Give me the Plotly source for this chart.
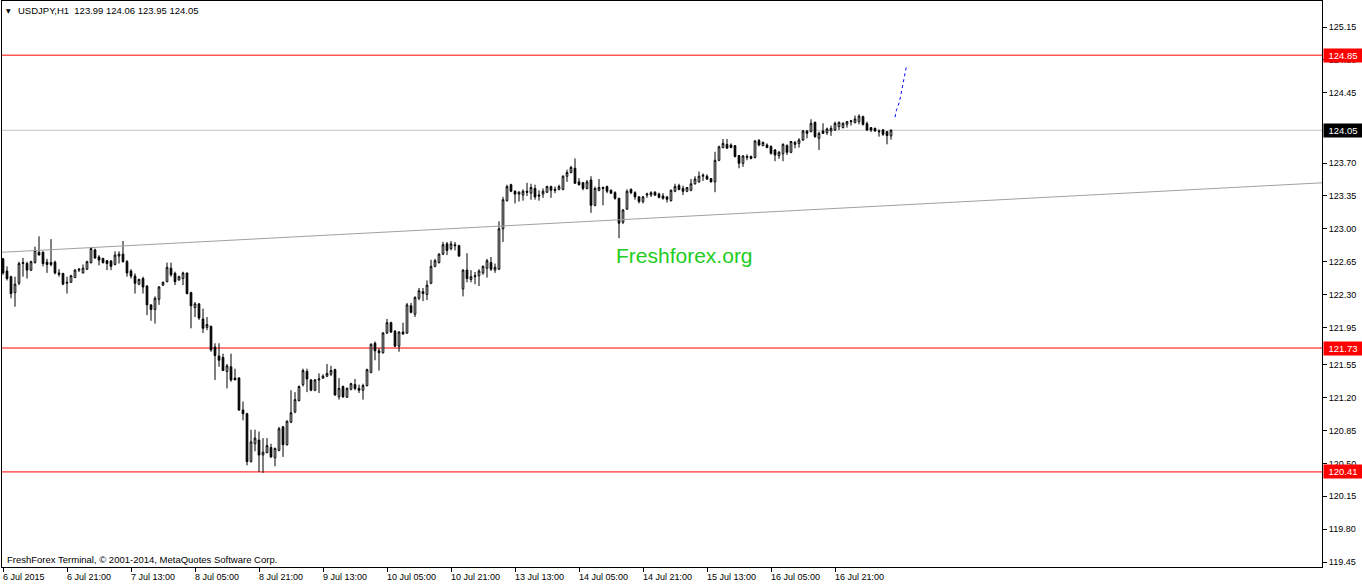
import plotly.graph_objects as go

# ---------------- data (USDJPY H1) ----------------
opens = [122.68, 122.55, 122.49, 122.32, 122.42, 122.63, 122.63, 122.56, 122.64, 122.75,
         122.75, 122.645, 122.64, 122.645, 122.53, 122.525, 122.42, 122.43, 122.48, 122.56,
         122.53, 122.57, 122.64, 122.775, 122.70, 122.685, 122.66, 122.657, 122.62, 122.71,
         122.73, 122.65, 122.55, 122.497, 122.41, 122.47, 122.39, 122.19, 122.14, 122.25,
         122.40, 122.437, 122.58, 122.525, 122.454, 122.47, 122.53, 122.32, 122.16, 122.20,
         122.04, 121.95, 121.96, 121.74, 121.645, 121.63, 121.48, 121.53, 121.41, 121.41,
         121.07, 121.03, 120.52, 120.71, 120.75, 120.59, 120.615, 120.67, 120.56, 120.64,
         120.89, 120.70, 120.94, 121.05, 121.17, 121.34, 121.48, 121.39, 121.28, 121.39,
         121.41, 121.43, 121.45, 121.50, 121.21, 121.32, 121.205, 121.29, 121.34, 121.30,
         121.28, 121.33, 121.47, 121.78, 121.70, 121.68, 121.89, 122.00, 121.91, 121.75,
         121.90, 121.89, 122.18, 122.09, 122.26, 122.33, 122.30, 122.42, 122.60, 122.64,
         122.73, 122.84, 122.79, 122.83, 122.82, 122.36, 122.56, 122.46, 122.49, 122.50,
         122.53, 122.58, 122.64, 122.56, 122.57, 123.00, 123.30, 123.47, 123.40, 123.37,
         123.36, 123.40, 123.38, 123.43, 123.36, 123.37, 123.39, 123.45, 123.42, 123.42,
         123.42, 123.56, 123.60, 123.645, 123.50, 123.49, 123.43, 123.52, 123.25, 123.41,
         123.44, 123.45, 123.41, 123.385, 123.325, 123.07, 123.21, 123.42, 123.385, 123.34,
         123.29, 123.36, 123.36, 123.39, 123.37, 123.35, 123.34, 123.30, 123.40, 123.46,
         123.43, 123.40, 123.41, 123.48, 123.50, 123.56, 123.56, 123.535, 123.50, 123.73,
         123.865, 123.90, 123.893, 123.886, 123.78, 123.698, 123.76, 123.77, 123.76, 123.94,
         123.886, 123.893, 123.876, 123.84, 123.78, 123.80, 123.886, 123.815, 123.90, 123.91,
         123.946, 124.04, 124.035, 124.135, 123.964, 124.042, 124.025, 124.042, 124.053, 124.089,
         124.078, 124.113, 124.14, 124.131, 124.142, 124.195, 124.12, 124.078, 124.07, 124.042,
         124.053, 124.035, 123.99]
highs = [122.69, 122.60, 122.50, 122.49, 122.65, 122.69, 122.65, 122.66, 122.81, 122.92,
         122.76, 122.68, 122.89, 122.66, 122.57, 122.53, 122.49, 122.51, 122.57, 122.58,
         122.62, 122.66, 122.80, 122.79, 122.72, 122.69, 122.667, 122.667, 122.76, 122.76,
         122.87, 122.667, 122.57, 122.525, 122.47, 122.49, 122.40, 122.19, 122.28, 122.39,
         122.437, 122.64, 122.64, 122.543, 122.50, 122.543, 122.53, 122.33, 122.22, 122.21,
         122.15, 122.06, 121.97, 121.78, 121.78, 121.67, 121.56, 121.67, 121.51, 121.42,
         121.16, 121.04, 120.86, 120.86, 120.84, 120.77, 120.77, 120.71, 120.67, 120.89,
         120.90, 120.96, 121.28, 121.26, 121.33, 121.51, 121.51, 121.40, 121.40, 121.46,
         121.45, 121.56, 121.54, 121.51, 121.41, 121.33, 121.31, 121.36, 121.40, 121.34,
         121.35, 121.51, 121.78, 121.80, 121.73, 121.90, 122.04, 122.01, 121.92, 121.91,
         122.00, 122.21, 122.21, 122.28, 122.37, 122.37, 122.45, 122.67, 122.68, 122.74,
         122.86, 122.86, 122.87, 122.86, 122.83, 122.57, 122.74, 122.56, 122.54, 122.57,
         122.61, 122.68, 122.70, 122.63, 123.08, 123.34, 123.47, 123.48, 123.41, 123.40,
         123.42, 123.49, 123.48, 123.47, 123.41, 123.43, 123.46, 123.46, 123.45, 123.47,
         123.57, 123.63, 123.67, 123.75, 123.54, 123.50, 123.52, 123.56, 123.45, 123.53,
         123.45, 123.46, 123.42, 123.40, 123.33, 123.21, 123.42, 123.43, 123.40, 123.35,
         123.35, 123.385, 123.40, 123.40, 123.385, 123.38, 123.35, 123.42, 123.48, 123.48,
         123.46, 123.445, 123.53, 123.56, 123.61, 123.59, 123.58, 123.54, 123.82, 123.886,
         123.957, 123.957, 123.91, 123.893, 123.787, 123.787, 123.793, 123.78, 123.946, 123.957,
         123.93, 123.91, 123.89, 123.85, 123.83, 123.91, 123.90, 123.936, 123.936, 123.965,
         124.053, 124.053, 124.167, 124.142, 124.035, 124.124, 124.078, 124.10, 124.142, 124.142,
         124.135, 124.149, 124.16, 124.206, 124.22, 124.206, 124.142, 124.08, 124.078, 124.06,
         124.064, 124.042, 124.06]
lows = [122.51, 122.45, 122.26, 122.17, 122.40, 122.49, 122.47, 122.55, 122.63, 122.72,
        122.60, 122.53, 122.60, 122.515, 122.49, 122.40, 122.31, 122.425, 122.48, 122.54,
        122.525, 122.56, 122.63, 122.68, 122.61, 122.63, 122.56, 122.56, 122.61, 122.63,
        122.64, 122.49, 122.47, 122.31, 122.40, 122.31, 122.08, 122.02, 121.99, 122.19,
        122.39, 122.43, 122.49, 122.40, 122.45, 122.40, 122.30, 121.94, 122.06, 122.03,
        121.89, 121.92, 121.69, 121.39, 121.53, 121.49, 121.30, 121.37, 121.39, 121.06,
        120.96, 120.48, 120.51, 120.63, 120.41, 120.40, 120.61, 120.56, 120.47, 120.63,
        120.57, 120.69, 120.93, 121.035, 121.16, 121.32, 121.26, 121.27, 121.27, 121.25,
        121.40, 121.42, 121.43, 121.22, 121.18, 121.20, 121.20, 121.28, 121.28, 121.25,
        121.18, 121.32, 121.46, 121.60, 121.49, 121.67, 121.88, 121.89, 121.74, 121.69,
        121.87, 121.88, 122.10, 122.06, 122.24, 122.23, 122.24, 122.41, 122.59, 122.63,
        122.72, 122.72, 122.77, 122.77, 122.70, 122.28, 122.43, 122.43, 122.41, 122.39,
        122.51, 122.48, 122.55, 122.53, 122.56, 122.86, 123.29, 123.39, 123.27, 123.29,
        123.30, 123.35, 123.31, 123.31, 123.30, 123.33, 123.38, 123.33, 123.38, 123.41,
        123.41, 123.50, 123.59, 123.48, 123.46, 123.41, 123.42, 123.17, 123.24, 123.40,
        123.25, 123.38, 123.37, 123.31, 122.90, 123.05, 123.20, 123.37, 123.31, 123.27,
        123.27, 123.33, 123.34, 123.35, 123.325, 123.31, 123.28, 123.29, 123.39, 123.41,
        123.36, 123.39, 123.40, 123.47, 123.49, 123.51, 123.52, 123.495, 123.39, 123.72,
        123.858, 123.85, 123.86, 123.76, 123.645, 123.66, 123.73, 123.74, 123.75, 123.88,
        123.88, 123.86, 123.79, 123.72, 123.745, 123.72, 123.787, 123.805, 123.858, 123.865,
        123.936, 123.964, 124.028, 123.97, 123.84, 124.01, 124.00, 123.99, 124.042, 124.053,
        124.07, 124.078, 124.10, 124.124, 124.113, 124.10, 124.042, 124.03, 124.035, 123.982,
        123.99, 123.90, 123.95]
closes = [122.53, 122.47, 122.31, 122.41, 122.63, 122.64, 122.56, 122.65, 122.77, 122.72,
          122.63, 122.62, 122.62, 122.53, 122.515, 122.41, 122.43, 122.50, 122.56, 122.57,
          122.58, 122.65, 122.79, 122.69, 122.667, 122.64, 122.63, 122.60, 122.72, 122.73,
          122.65, 122.53, 122.497, 122.42, 122.46, 122.38, 122.19, 122.14, 122.26, 122.38,
          122.43, 122.59, 122.51, 122.437, 122.49, 122.53, 122.31, 122.18, 122.20, 122.05,
          121.94, 121.98, 121.71, 121.65, 121.60, 121.49, 121.54, 121.39, 121.39, 121.07,
          121.03, 120.52, 120.73, 120.77, 120.59, 120.62, 120.69, 120.57, 120.66, 120.87,
          120.70, 120.95, 121.04, 121.18, 121.32, 121.49, 121.40, 121.28, 121.39, 121.40,
          121.43, 121.46, 121.49, 121.23, 121.30, 121.21, 121.30, 121.35, 121.30, 121.28,
          121.33, 121.50, 121.77, 121.70, 121.68, 121.89, 122.00, 121.90, 121.75, 121.90,
          121.88, 122.19, 122.11, 122.27, 122.34, 122.31, 122.40, 122.60, 122.66, 122.73,
          122.83, 122.77, 122.84, 122.82, 122.71, 122.56, 122.47, 122.49, 122.50, 122.55,
          122.60, 122.66, 122.57, 122.59, 123.00, 123.31, 123.45, 123.40, 123.37, 123.39,
          123.40, 123.39, 123.44, 123.34, 123.35, 123.40, 123.45, 123.41, 123.41, 123.45,
          123.56, 123.60, 123.655, 123.485, 123.47, 123.43, 123.50, 123.25, 123.43, 123.44,
          123.43, 123.40, 123.38, 123.325, 123.06, 123.20, 123.40, 123.385, 123.34, 123.29,
          123.34, 123.37, 123.385, 123.36, 123.335, 123.325, 123.315, 123.41, 123.45, 123.42,
          123.40, 123.44, 123.48, 123.53, 123.56, 123.57, 123.53, 123.50, 123.73, 123.874,
          123.91, 123.86, 123.865, 123.77, 123.698, 123.776, 123.77, 123.75, 123.935, 123.893,
          123.92, 123.865, 123.805, 123.787, 123.815, 123.90, 123.815, 123.93, 123.92, 123.946,
          124.042, 124.017, 124.124, 123.982, 124.017, 124.017, 124.064, 124.07, 124.124, 124.135,
          124.124, 124.142, 124.15, 124.17, 124.20, 124.113, 124.053, 124.053, 124.042, 124.035,
          124.007, 123.993, 124.05]

x_tick_bars = [0, 16, 32, 48, 64, 80, 96, 112, 128, 144, 160, 176, 192, 208]
x_tick_labels = ["6 Jul 2015", "6 Jul 21:00", "7 Jul 13:00", "8 Jul 05:00", "8 Jul 21:00",
                 "9 Jul 13:00", "10 Jul 05:00", "10 Jul 21:00", "13 Jul 13:00", "14 Jul 05:00",
                 "14 Jul 21:00", "15 Jul 13:00", "16 Jul 05:00", "16 Jul 21:00"]

y_tick_values = [125.15, 124.80, 124.45, 123.70, 123.35, 123.00, 122.65, 122.30, 121.95,
                 121.55, 121.20, 120.85, 120.50, 120.15, 119.80, 119.45]
y_tick_labels = ["125.15", "124.80", "124.45", "123.70", "123.35", "123.00", "122.65", "122.30",
                 "121.95", "121.55", "121.20", "120.85", "120.50", "120.15", "119.80", "119.45"]

red_levels = [124.85, 121.73, 120.41]
red_level_labels = ["124.85", "121.73", "120.41"]
bid_level = 124.05
bid_label = "124.05"

trend_x = [-0.25, 329.75]
trend_y = [122.75, 123.49]

forecast_x = [223.0, 223.4, 224.1, 224.6, 225.3, 225.9]
forecast_y = [124.19, 124.27, 124.35, 124.46, 124.64, 124.74]

title_text = "USDJPY,H1  123.99 124.06 123.95 124.05"
credits_text = "FreshForex Terminal, \u00a9 2001-2014, MetaQuotes Software Corp."
watermark_text = "Freshforex.org"

x_range = [-0.25, 329.75]
y_range = [119.397, 125.427]

FONT = "Liberation Sans, Arial, sans-serif"
bars = list(range(len(opens)))

# ---------------- figure ----------------
fig = go.Figure()

fig.add_trace(go.Scatter(x=trend_x, y=trend_y, mode="lines",
                         line=dict(color="#A0A0A0", width=1), hoverinfo="skip"))

fig.add_trace(go.Candlestick(
    x=bars, open=opens, high=highs, low=lows, close=closes,
    increasing=dict(line=dict(color="black", width=1), fillcolor="white"),
    decreasing=dict(line=dict(color="black", width=1), fillcolor="black"),
    whiskerwidth=0, showlegend=False))

fig.add_trace(go.Scatter(x=forecast_x, y=forecast_y, mode="lines",
                         line=dict(color="#0000FF", width=1, dash="dot"), hoverinfo="skip"))

shapes = []
for lv in red_levels:
    shapes.append(dict(type="line", xref="paper", x0=0, x1=1, yref="y", y0=lv, y1=lv,
                       line=dict(color="#FF0000", width=1), layer="below"))
shapes.append(dict(type="line", xref="paper", x0=0, x1=1, yref="y", y0=bid_level, y1=bid_level,
                   line=dict(color="#C0C0C0", width=1), layer="below"))

annotations = []
for b, t in zip(x_tick_bars, x_tick_labels):
    annotations.append(dict(x=b, xref="x", y=0, yref="paper", yanchor="top", xanchor="left",
                            xshift=-2, yshift=-3, text=t, showarrow=False,
                            font=dict(family=FONT, size=9, color="black")))
for lv, t in zip(red_levels, red_level_labels):
    annotations.append(dict(x=1, xref="paper", xanchor="left", xshift=1, y=lv, yref="y",
                            yanchor="middle", text=t, showarrow=False, bgcolor="#FF0000",
                            width=36, height=11, align="center", borderpad=1,
                            font=dict(family=FONT, size=9.5, color="white")))
annotations.append(dict(x=1, xref="paper", xanchor="left", xshift=1, y=bid_level, yref="y",
                        yanchor="middle", text=bid_label, showarrow=False, bgcolor="black",
                        width=36, height=11, align="center", borderpad=1,
                        font=dict(family=FONT, size=9.5, color="white")))
annotations.append(dict(x=0, xref="paper", xanchor="left", xshift=2, y=1, yref="paper",
                        yanchor="top", yshift=-4, text="\u25bc", showarrow=False,
                        font=dict(family="DejaVu Sans", size=6, color="black")))
annotations.append(dict(x=0, xref="paper", xanchor="left", xshift=14, y=1, yref="paper",
                        yanchor="top", yshift=-2, text=title_text, showarrow=False,
                        font=dict(family=FONT, size=9.5, color="black")))
annotations.append(dict(x=0, xref="paper", xanchor="left", xshift=3, y=0, yref="paper",
                        yanchor="bottom", yshift=0, text=credits_text, showarrow=False,
                        font=dict(family=FONT, size=9.5, color="black")))
annotations.append(dict(x=0.5167, xref="paper", y=0.5504, yref="paper", xanchor="center",
                        yanchor="middle", text=watermark_text, showarrow=False,
                        font=dict(family=FONT, size=21, color="#22CC22")))

fig.update_layout(
    width=1362, height=586,
    margin=dict(l=2, r=40, t=1, b=19, pad=0),
    paper_bgcolor="white", plot_bgcolor="white",
    showlegend=False, boxgap=0.4,
    shapes=shapes, annotations=annotations,
    xaxis=dict(range=x_range, showgrid=False, zeroline=False, showline=True, mirror=True,
               linecolor="black", linewidth=1, ticks="outside", ticklen=4, tickcolor="black",
               tickvals=x_tick_bars, showticklabels=False, rangeslider=dict(visible=False),
               fixedrange=True),
    yaxis=dict(range=y_range, side="right", showgrid=False, zeroline=False, showline=True,
               mirror=True, linecolor="black", linewidth=1, ticks="outside", ticklen=4,
               tickcolor="black", tickvals=y_tick_values, ticktext=y_tick_labels,
               tickfont=dict(family=FONT, size=9, color="black"), fixedrange=True),
)

fig.write_html("out.html", config={"displayModeBar": False},
               post_script="document.body.style.margin='0';document.body.style.overflow='hidden';")
